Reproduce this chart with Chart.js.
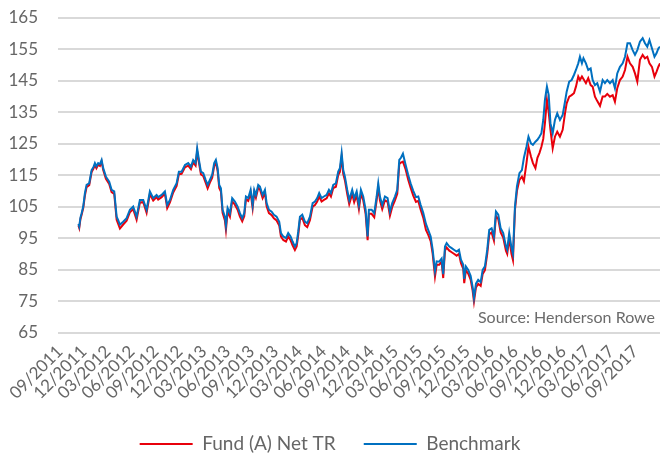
<!DOCTYPE html>
<html><head><meta charset="utf-8">
<script src="https://cdn.jsdelivr.net/npm/chart.js@4"></script>
<style>html,body{margin:0;padding:0;background:#fff;} canvas{display:block;}</style>
</head><body>
<canvas id="c" width="660" height="457"></canvas>
<script>
const tickLabels = ['09/2011','12/2011','03/2012','06/2012','09/2012','12/2012','03/2013','06/2013','09/2013','12/2013','03/2014','06/2014','09/2014','12/2014','03/2015','06/2015','09/2015','12/2015','03/2016','06/2016','09/2016','12/2016','03/2017','06/2017','09/2017'];

// x = months since 09/2011
const months = [
2.32,2.42,2.57,2.72,2.92,3.13,3.34,3.67,3.97,4.19,
4.38,4.57,4.79,5.01,5.22,5.42,5.76,6.17,6.47,6.80,
7.10,7.32,7.51,7.92,8.35,8.76,9.17,9.60,10.01,10.43,
10.85,11.26,11.68,12.10,12.30,12.73,13.14,13.43,13.77,14.18,
14.61,14.89,15.23,15.65,16.06,16.40,16.68,16.98,17.18,17.40,
17.65,17.94,18.24,18.49,18.77,19.06,19.31,19.52,19.74,19.94,
20.15,20.36,20.65,20.78,20.99,21.28,21.56,21.90,22.24,22.53,
22.82,23.07,23.28,23.57,23.87,24.12,24.32,24.53,24.82,25.03,
25.37,25.66,25.87,26.16,26.50,26.78,27.12,27.45,27.66,27.95,
28.29,28.57,28.87,29.12,29.41,29.63,29.83,30.04,30.33,30.66,
30.95,31.29,31.63,31.92,32.20,32.45,32.75,33.04,33.38,33.67,
33.92,34.21,34.54,34.83,35.04,35.26,35.46,35.67,35.96,36.21,
36.58,36.83,37.14,37.42,37.67,37.96,38.26,38.51,38.67,39.01,
39.34,39.64,39.84,40.05,40.34,40.68,41.01,41.30,41.59,41.93,
42.22,42.47,42.68,42.93,43.27,43.59,43.89,44.22,44.56,44.85,
45.15,45.47,45.81,46.10,46.40,46.65,46.94,47.15,47.47,47.77,
47.97,48.19,48.40,48.73,49.03,49.31,49.65,49.94,50.19,50.48,
50.60,50.81,51.10,51.40,51.65,51.82,52.07,52.35,52.66,52.91,
53.19,53.48,53.73,54.03,54.32,54.57,54.86,55.16,55.48,55.82,
55.98,56.23,56.51,56.70,56.95,57.20,57.51,57.82,58.07,58.39,
58.64,58.95,59.20,59.51,59.76,60.01,60.26,60.49,60.70,60.95,
61.17,61.39,61.67,61.95,62.24,62.58,62.92,63.21,63.42,63.74,
64.04,64.33,64.58,64.87,65.08,65.33,65.52,65.83,66.12,66.42,
66.67,66.96,67.25,67.59,67.92,68.21,68.50,68.84,69.18,69.46,
69.75,70.09,70.43,70.72,71.03,71.34,71.68,71.97,72.26,72.59,
72.93,73.22,73.51,73.78,74.09,74.41,74.66,74.91,75.10
];

const benchmark = [
99.5,98.7,101.5,102.9,105.0,109.3,111.9,112.4,116.6,117.5,
118.8,117.8,118.8,118.5,119.8,117.2,114.5,112.9,110.3,109.8,
101.8,100.5,99.2,100.2,101.3,104.0,105.0,101.8,107.1,107.1,
104.0,109.8,107.7,108.7,108.0,108.7,109.8,105.5,107.1,110.3,
112.4,116.1,116.1,118.2,118.8,117.7,119.8,118.8,123.5,119.8,
116.1,115.6,113.5,111.9,113.5,115.1,118.8,119.8,117.2,111.9,
110.8,104.0,101.8,99.0,104.5,102.9,107.7,106.6,105.0,102.9,
101.3,102.9,108.2,107.7,110.3,105.5,110.3,108.7,111.9,111.4,
108.7,110.3,106.1,104.0,103.4,102.4,101.8,100.2,96.6,95.5,
95.0,96.6,95.5,93.9,92.3,93.4,97.1,101.8,102.4,100.2,
99.7,101.8,106.1,106.6,107.7,109.3,107.7,108.2,108.7,110.3,
109.3,111.9,112.4,116.1,117.2,122.0,116.6,114.5,110.3,107.1,
110.3,107.7,109.8,105.5,110.3,108.2,104.0,95.5,104.0,104.0,
102.9,108.2,112.4,108.2,105.5,108.2,107.7,103.4,106.1,108.2,
110.3,119.8,120.5,121.8,118.2,115.0,112.4,110.0,108.0,108.2,
105.5,103.0,99.5,97.5,95.5,91.3,84.5,87.6,87.5,88.5,
83.5,92.3,93.4,92.3,91.8,91.3,90.7,91.3,88.1,86.5,
82.0,86.0,84.9,83.0,79.5,76.0,80.5,81.7,81.0,84.9,
86.0,91.3,97.6,98.1,95.5,103.4,102.4,98.1,96.6,92.3,
91.3,96.6,92.0,90.0,105.0,111.5,115.6,116.6,120.5,124.0,
127.2,125.1,124.6,125.6,126.2,127.2,128.3,132.5,138.9,143.1,
140.5,131.5,128.3,132.5,134.6,132.5,134.1,138.3,141.5,144.7,
145.2,146.8,148.4,150.5,152.6,150.5,152.1,150.5,148.4,148.9,
145.2,143.6,144.2,141.5,145.2,144.2,145.2,144.2,145.2,142.6,
147.3,149.4,150.5,152.6,156.9,156.9,154.7,153.2,154.7,157.4,
158.5,156.9,155.8,157.9,155.3,152.6,153.7,155.3,155.8
];

const fund = [
99.0,98.2,101.0,102.4,104.5,108.5,111.2,111.8,116.0,117.0,
118.2,117.2,118.3,117.9,119.3,116.6,113.8,112.2,109.6,109.0,
100.8,99.3,98.0,99.3,100.5,103.2,104.2,100.8,106.3,106.4,
103.0,109.0,106.9,108.0,107.2,108.0,109.1,104.5,106.3,109.5,
111.6,115.3,115.4,117.5,118.0,116.9,119.0,118.0,122.5,119.0,
115.2,114.7,112.6,110.8,112.6,114.2,117.9,119.0,116.3,110.9,
109.8,103.0,100.6,97.6,103.4,101.8,106.7,105.6,104.0,101.8,
100.3,101.9,107.3,106.8,109.4,104.5,109.4,107.8,111.0,110.5,
107.7,109.4,105.1,102.9,102.3,101.3,100.6,99.0,95.5,94.4,
93.9,95.5,94.3,92.7,91.2,92.3,96.0,100.8,101.4,99.1,
98.5,100.7,105.0,105.5,106.6,108.2,106.6,107.1,107.6,109.2,
108.2,110.9,111.3,115.0,116.0,120.8,115.4,113.3,109.0,105.8,
109.0,106.4,108.6,104.2,109.1,107.0,102.7,94.3,102.7,102.7,
101.6,107.0,111.2,107.0,104.2,107.0,106.5,102.1,104.9,107.0,
109.1,118.5,119.0,119.3,116.8,113.5,111.0,108.5,106.5,106.8,
104.0,101.5,97.6,96.0,94.0,90.0,82.8,86.5,86.5,87.5,
82.3,91.0,92.0,91.0,90.5,90.0,89.4,90.0,87.0,85.2,
80.7,84.8,83.7,81.8,78.3,74.8,79.3,80.5,79.8,83.6,
84.8,90.0,96.2,96.8,94.2,102.0,101.0,96.8,95.2,91.0,
90.0,95.0,90.0,88.0,104.0,110.0,113.5,114.5,113.0,118.8,
124.0,120.9,118.8,117.2,120.5,122.0,124.0,126.5,131.5,138.9,
135.0,129.4,123.5,127.2,128.8,127.2,129.4,134.6,137.8,139.9,
140.4,141.0,143.1,146.3,145.2,146.3,145.5,144.2,145.8,143.6,
143.1,139.9,138.5,137.0,140.0,140.0,140.8,139.9,140.4,138.3,
142.6,145.2,146.3,148.4,152.6,150.5,149.4,147.3,144.7,151.6,
153.2,152.1,152.6,150.5,149.4,146.3,147.8,149.5,150.5
];

const seriesNames = ['Fund (A) Net TR', 'Benchmark'];
const sourceText = 'Source: Henderson Rowe';

const toPoints = ys => months.map((m, i) => ({x: m, y: ys[i]}));

const sourcePlugin = {
  id: 'sourceNote',
  afterDraw(chart) {
    const {ctx, chartArea} = chart;
    ctx.save();
    ctx.font = '16px Lato';
    ctx.fillStyle = '#6b6b6b';
    ctx.textAlign = 'right';
    ctx.textBaseline = 'middle';
    ctx.fillText(sourceText, chartArea.right - 5, chartArea.bottom - 15);
    ctx.restore();
  }
};

new Chart(document.getElementById('c'), {
  type: 'line',
  data: {
    datasets: [
      {label: seriesNames[1], data: toPoints(benchmark), borderColor: '#0070c0', backgroundColor: '#0070c0', borderWidth: 2, pointRadius: 0, tension: 0},
      {label: seriesNames[0], data: toPoints(fund), borderColor: '#e8000b', backgroundColor: '#e8000b', borderWidth: 2, pointRadius: 0, tension: 0}
    ]
  },
  options: {
    responsive: false,
    animation: false,
    layout: {padding: {top: 17.7, bottom: 0, left: 0, right: 0}},
    plugins: {
      legend: {
        position: 'bottom',
        reverse: true,
        maxHeight: 50.5,
        labels: {
          boxWidth: 53, boxHeight: 2, padding: 28, color: '#666',
          font: {family: 'Lato', size: 19},
          generateLabels(chart) {
            const items = Chart.defaults.plugins.legend.labels.generateLabels(chart);
            items.forEach(it => { it.lineWidth = 0; });
            return items;
          }
        }
      },
      tooltip: {enabled: false}
    },
    scales: {
      x: {
        type: 'linear', min: -0.3, max: 75.1,
        grid: {display: false, drawTicks: false},
        border: {display: false},
        afterBuildTicks(s) { s.ticks = tickLabels.map((_, i) => ({value: i * 3})); },
        afterFit(s) { s.height = 74; s.paddingLeft = 0; s.paddingRight = 0; },
        ticks: {autoSkip: false, maxRotation: 45, minRotation: 45, padding: 9, color: '#666',
          font: {family: 'Lato', size: 17},
          callback: v => tickLabels[Math.round(v / 3)]}
      },
      y: {
        min: 65, max: 165,
        afterFit(s) { s.width = 57.5; s.paddingTop = 0; s.paddingBottom = 0; },
        grid: {color: '#d9d9d9', lineWidth: 2, drawTicks: false},
        border: {display: false},
        ticks: {stepSize: 10, padding: 19.5, color: '#666', font: {family: 'Lato', size: 17}}
      }
    }
  },
  plugins: [sourcePlugin]
});
</script>
</body></html>
